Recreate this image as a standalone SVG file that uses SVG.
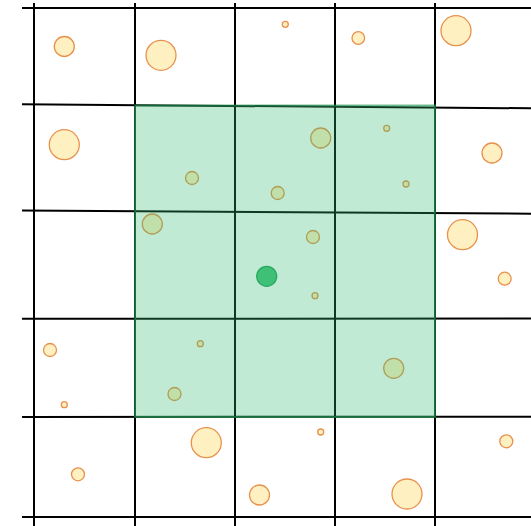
<svg xmlns="http://www.w3.org/2000/svg" width="531" height="526" viewBox="0 0 531 526">
<style>
.g{stroke:#000;stroke-width:2;fill:none}
.c{fill:#fff0c2;stroke:#e8914c;stroke-width:1.3}
</style>
<rect width="531" height="526" fill="#fff"/>
<g id="grid">
<line class="g" x1="34" y1="3" x2="34" y2="526"/>
<line class="g" x1="135" y1="3" x2="135" y2="526"/>
<line class="g" x1="235" y1="3" x2="235" y2="526"/>
<line class="g" x1="335" y1="3" x2="335" y2="526"/>
<line class="g" x1="435" y1="3" x2="435" y2="526"/>
<line class="g" x1="22" y1="8" x2="531" y2="8"/>
<line class="g" x1="22" y1="104.3" x2="531" y2="108.3"/>
<line class="g" x1="22" y1="210.5" x2="531" y2="213.7"/>
<line class="g" x1="22" y1="318.8" x2="531" y2="318.6"/>
<line class="g" x1="22" y1="417" x2="531" y2="416.7"/>
<line class="g" x1="22" y1="517" x2="531" y2="517"/>
</g>
<g id="points">
<circle class="c" cx="64.3" cy="46.5" r="10"/>
<circle class="c" cx="161" cy="55.3" r="15"/>
<circle class="c" cx="64.3" cy="144.7" r="15"/>
<circle class="c" cx="285.3" cy="24.3" r="3"/>
<circle class="c" cx="358.3" cy="38" r="6.3"/>
<circle class="c" cx="456" cy="30.7" r="15"/>
<circle class="c" cx="492" cy="153" r="10"/>
<circle class="c" cx="462.5" cy="234.7" r="15"/>
<circle class="c" cx="504.7" cy="278.7" r="6.5"/>
<circle class="c" cx="50" cy="350" r="6.5"/>
<circle class="c" cx="64.3" cy="404.7" r="3"/>
<circle class="c" cx="78" cy="474.3" r="6.5"/>
<circle class="c" cx="206.3" cy="442.7" r="15"/>
<circle class="c" cx="259.5" cy="495" r="10"/>
<circle class="c" cx="320.7" cy="432" r="3"/>
<circle class="c" cx="407" cy="494" r="15"/>
<circle class="c" cx="506.3" cy="441.3" r="6.5"/>
<circle class="c" cx="192" cy="178" r="6.5"/>
<circle class="c" cx="152.3" cy="224" r="10"/>
<circle class="c" cx="320.7" cy="138" r="10"/>
<circle class="c" cx="277.7" cy="193" r="6.5"/>
<circle class="c" cx="386.7" cy="128.3" r="3"/>
<circle class="c" cx="406" cy="184" r="3"/>
<circle class="c" cx="313" cy="237" r="6.5"/>
<circle class="c" cx="315" cy="295.7" r="3"/>
<circle class="c" cx="200.3" cy="343.7" r="3"/>
<circle class="c" cx="174.5" cy="394" r="6.5"/>
<circle class="c" cx="393.7" cy="368.3" r="10"/>
</g>
<g id="region">
<rect x="135" y="105.5" width="300" height="311.5" fill="rgb(46,184,114)" fill-opacity="0.3" stroke="rgb(30,150,80)" stroke-opacity="0.6" stroke-width="2"/>
</g>
<g id="query">
<circle cx="266.7" cy="276.3" r="10" fill="#3fc077" stroke="#2aa862" stroke-width="1.3"/>
</g>
</svg>
